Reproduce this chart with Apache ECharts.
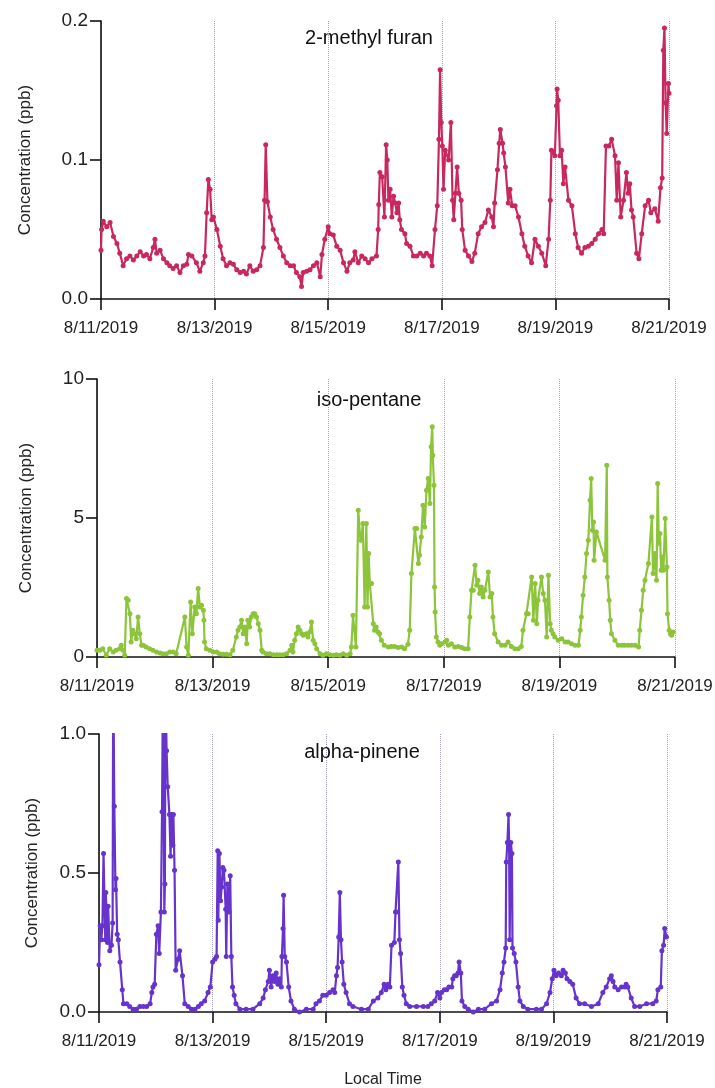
<!DOCTYPE html>
<html>
<head>
<meta charset="utf-8">
<script src="https://cdn.jsdelivr.net/npm/echarts@6/dist/echarts.min.js"></script>
<style>
  html, body { margin: 0; padding: 0; background: #fff; }
  #main { width: 715px; height: 1088px; }
</style>
</head>
<body>
<div id="main"></div>
<script>
// x values are days after 8/11/2019 00:00 local time
var dayTicks = ['8/11/2019', '8/13/2019', '8/15/2019', '8/17/2019', '8/19/2019', '8/21/2019'];

var furanT = [0.00,0.01,0.04,0.10,0.16,0.22,0.28,0.33,0.39,0.45,0.51,0.57,0.63,0.69,0.75,0.80,0.86,0.92,0.95,0.98,
  1.04,1.10,1.16,1.21,1.27,1.33,1.39,1.45,1.51,1.54,1.60,1.68,1.74,1.80,1.83,1.86,1.89,1.92,1.95,1.98,
  2.04,2.10,2.15,2.21,2.27,2.33,2.39,2.45,2.51,2.56,2.62,2.68,2.74,2.80,2.86,2.88,2.90,2.93,2.98,
  3.03,3.09,3.15,3.21,3.27,3.33,3.39,3.44,3.50,3.53,3.56,3.62,3.68,3.74,3.80,3.86,3.89,3.94,
  4.00,4.03,4.09,4.15,4.21,4.27,4.33,4.38,4.44,4.47,4.53,4.59,4.65,4.71,4.77,4.85,4.88,4.89,4.91,4.95,4.99,
  5.02,5.04,5.06,5.09,5.12,5.15,5.18,5.21,5.24,5.26,5.29,5.35,5.38,5.44,5.50,5.56,5.62,5.68,5.73,5.79,5.83,5.88,5.92,5.95,5.97,5.99,
  6.01,6.03,6.06,6.12,6.16,6.19,6.21,6.24,6.27,6.30,6.34,6.36,6.41,6.47,6.53,6.58,6.64,6.70,6.76,6.82,6.88,6.91,6.93,6.98,
  7.01,7.03,7.07,7.09,7.12,7.17,7.20,7.24,7.29,7.35,7.41,7.46,7.52,7.58,7.64,7.70,7.76,7.83,7.88,7.91,7.93,7.96,7.99,
  8.02,8.03,8.05,8.08,8.11,8.14,8.17,8.23,8.29,8.35,8.40,8.46,8.52,8.58,8.64,8.70,8.76,8.82,8.85,8.89,8.94,8.99,
  9.05,9.08,9.11,9.15,9.20,9.25,9.28,9.31,9.34,9.37,9.43,9.47,9.52,9.58,9.64,9.68,9.75,9.81,9.85,9.88,9.90,9.92,9.94,9.96,9.99,10.00];
var furanV = [0.035,0.050,0.056,0.052,0.055,0.045,0.040,0.033,0.024,0.029,0.031,0.028,0.031,0.034,0.031,0.032,0.029,0.037,0.043,0.033,
  0.035,0.029,0.026,0.024,0.022,0.024,0.019,0.024,0.025,0.032,0.031,0.026,0.020,0.026,0.031,0.062,0.086,0.079,0.057,0.059,
  0.050,0.038,0.029,0.024,0.026,0.025,0.021,0.019,0.020,0.018,0.024,0.020,0.021,0.024,0.037,0.071,0.111,0.070,0.059,
  0.050,0.043,0.037,0.031,0.026,0.024,0.024,0.019,0.016,0.009,0.019,0.020,0.021,0.024,0.026,0.016,0.032,0.043,
  0.052,0.047,0.046,0.038,0.035,0.026,0.020,0.026,0.028,0.034,0.026,0.031,0.029,0.026,0.029,0.031,0.050,0.068,0.091,0.088,0.059,
  0.111,0.100,0.071,0.079,0.059,0.074,0.069,0.062,0.069,0.057,0.050,0.047,0.040,0.038,0.031,0.031,0.033,0.031,0.033,0.031,0.024,0.050,0.067,0.115,0.165,0.127,
  0.110,0.079,0.107,0.100,0.127,0.071,0.057,0.076,0.095,0.076,0.071,0.050,0.035,0.031,0.027,0.033,0.047,0.052,0.055,0.064,0.059,0.052,0.069,0.093,
  0.112,0.122,0.112,0.105,0.095,0.069,0.079,0.067,0.067,0.059,0.047,0.038,0.031,0.026,0.043,0.038,0.033,0.024,0.043,0.071,0.107,0.106,0.103,
  0.139,0.151,0.143,0.103,0.107,0.083,0.095,0.071,0.067,0.047,0.037,0.033,0.037,0.038,0.040,0.043,0.047,0.050,0.047,0.110,0.110,0.115,
  0.103,0.071,0.098,0.059,0.071,0.091,0.076,0.083,0.064,0.059,0.033,0.029,0.047,0.067,0.071,0.062,0.065,0.056,0.080,0.087,0.179,0.195,0.141,0.119,0.155,0.148];

var pentaneT = [0.00,0.05,0.10,0.16,0.22,0.28,0.33,0.39,0.42,0.45,0.48,0.51,0.54,0.57,0.59,0.62,0.65,0.68,0.71,0.74,0.77,0.80,0.85,0.91,0.97,
  1.03,1.09,1.14,1.20,1.26,1.32,1.37,1.52,1.55,1.58,1.62,1.65,1.69,1.72,1.75,1.78,1.81,1.84,1.85,1.86,1.89,1.95,
  2.01,2.07,2.12,2.18,2.24,2.30,2.35,2.41,2.44,2.47,2.50,2.53,2.56,2.59,2.61,2.64,2.67,2.70,2.73,2.76,2.79,2.82,2.85,2.87,2.93,2.99,
  3.05,3.11,3.16,3.22,3.28,3.34,3.37,3.39,3.42,3.45,3.48,3.51,3.54,3.57,3.62,3.65,3.68,3.71,3.74,3.77,3.80,3.86,3.91,3.97,
  4.03,4.09,4.14,4.20,4.26,4.32,4.38,4.40,4.43,4.48,4.52,4.55,4.57,4.60,4.63,4.66,4.68,4.70,4.72,4.75,4.78,4.80,4.83,4.86,4.89,4.92,4.97,
  5.04,5.09,5.15,5.21,5.27,5.32,5.38,5.41,5.44,5.50,5.53,5.56,5.58,5.61,5.64,5.67,5.70,5.73,5.76,5.78,5.80,5.81,5.83,5.84,5.85,5.87,5.90,5.93,5.96,
  6.02,6.05,6.08,6.13,6.19,6.25,6.31,6.36,6.42,6.45,6.48,6.51,6.54,6.57,6.59,6.62,6.65,6.68,6.71,6.77,6.80,6.83,6.85,6.88,6.94,
  7.00,7.06,7.11,7.17,7.23,7.29,7.34,7.37,7.43,7.46,7.52,7.55,7.58,7.61,7.63,7.69,7.72,7.75,7.78,7.81,7.84,7.86,7.89,7.92,7.98,
  8.04,8.10,8.15,8.21,8.27,8.33,8.36,8.38,8.41,8.44,8.47,8.50,8.53,8.55,8.57,8.59,8.60,8.64,8.79,8.82,8.83,8.86,8.88,8.90,8.96,
  9.02,9.08,9.13,9.19,9.25,9.31,9.37,9.39,9.42,9.45,9.48,9.54,9.60,9.62,9.65,9.68,9.70,9.72,9.74,9.76,9.78,9.80,9.83,9.86,9.87,9.90,9.92,9.94,9.97];
var pentaneV = [0.24,0.24,0.30,0.06,0.30,0.18,0.24,0.30,0.42,0.24,0.06,2.10,2.04,1.56,0.54,0.96,0.84,0.66,1.44,0.84,0.42,0.42,0.36,0.30,0.24,
  0.18,0.14,0.12,0.12,0.18,0.18,0.12,1.44,0.36,0.06,1.98,0.84,1.80,1.56,2.46,1.80,1.86,1.68,1.32,0.54,0.30,0.24,
  0.18,0.18,0.12,0.10,0.10,0.08,0.24,0.72,0.96,1.08,1.32,0.84,1.08,0.48,1.32,1.08,1.44,1.56,1.56,1.44,1.20,0.96,0.24,0.18,0.12,0.12,
  0.08,0.08,0.08,0.08,0.12,0.24,0.42,0.18,0.60,0.84,1.08,0.96,0.84,0.78,0.84,0.72,0.90,1.26,0.60,0.48,0.30,0.12,0.06,0.12,
  0.08,0.06,0.08,0.06,0.12,0.06,0.12,0.36,1.50,0.36,5.28,4.38,4.20,4.80,1.80,4.80,1.80,3.72,2.64,2.64,1.20,0.96,1.08,0.90,0.84,0.60,0.42,
  0.36,0.38,0.38,0.34,0.36,0.30,0.46,0.96,3.00,4.62,4.62,3.36,3.66,4.32,5.46,4.68,6.00,6.42,5.52,7.56,8.28,7.26,6.18,2.52,1.62,0.72,0.54,0.42,0.48,
  0.54,0.60,0.42,0.48,0.36,0.38,0.34,0.30,0.30,1.44,2.40,2.40,3.30,2.58,2.76,2.28,2.52,2.16,2.40,3.06,2.16,2.28,1.44,0.84,0.54,
  0.42,0.42,0.54,0.38,0.30,0.30,0.38,0.96,1.56,1.56,2.88,1.32,2.64,1.20,2.04,2.88,2.28,2.04,0.72,2.94,1.20,0.96,0.84,0.72,0.60,
  0.66,0.54,0.54,0.48,0.42,0.42,0.96,1.44,2.22,2.88,3.72,4.20,5.64,6.42,4.56,4.86,3.48,4.50,3.48,6.90,2.88,2.04,1.32,0.84,0.60,
  0.42,0.42,0.42,0.42,0.42,0.42,0.36,0.96,1.68,2.40,2.76,3.36,5.04,3.00,3.72,2.76,6.24,4.08,4.44,3.12,3.60,3.12,4.98,3.24,1.56,0.96,0.84,0.78,0.90];

var pineneT = [0.00,0.02,0.04,0.06,0.08,0.11,0.12,0.15,0.16,0.19,0.22,0.24,0.25,0.27,0.29,0.30,0.32,0.34,0.37,0.41,0.43,0.49,0.54,0.60,0.66,0.72,0.78,0.84,0.90,0.93,0.95,0.98,
  1.01,1.04,1.06,1.09,1.11,1.13,1.15,1.16,1.17,1.19,1.21,1.24,1.26,1.28,1.30,1.31,1.33,1.35,1.39,1.42,1.47,1.51,1.57,1.63,1.69,1.75,1.80,1.86,1.92,1.96,
  2.00,2.04,2.07,2.09,2.10,2.12,2.14,2.16,2.18,2.20,2.23,2.24,2.26,2.29,2.31,2.33,2.35,2.38,2.41,2.48,2.59,2.71,2.83,2.89,2.93,2.98,
  3.00,3.03,3.06,3.09,3.12,3.15,3.18,3.21,3.22,3.24,3.25,3.27,3.30,3.34,3.38,3.44,3.53,3.65,3.77,3.82,3.88,3.94,
  4.00,4.06,4.12,4.15,4.18,4.20,4.22,4.24,4.26,4.28,4.31,4.35,4.41,4.47,4.62,4.74,4.83,4.91,4.97,
  5.02,5.05,5.09,5.12,5.15,5.20,5.22,5.24,5.27,5.29,5.31,5.34,5.37,5.41,5.47,5.59,5.71,5.79,5.85,5.91,5.96,
  6.00,6.03,6.08,6.12,6.16,6.21,6.23,6.26,6.29,6.32,6.34,6.37,6.39,6.44,6.50,6.59,6.68,6.79,6.91,
  7.00,7.06,7.10,7.13,7.16,7.17,7.19,7.21,7.22,7.23,7.25,7.27,7.28,7.31,7.34,7.38,7.41,7.47,7.55,7.70,7.79,7.88,7.94,7.98,
  8.01,8.05,8.09,8.14,8.17,8.21,8.24,8.29,8.34,8.40,8.46,8.55,8.67,8.79,8.87,8.93,8.99,
  9.02,9.05,9.08,9.14,9.20,9.26,9.28,9.31,9.37,9.43,9.52,9.64,9.75,9.81,9.84,9.89,9.91,9.94,9.96,9.99];
var pineneV = [0.17,0.31,0.26,0.31,0.57,0.26,0.43,0.25,0.38,0.22,0.24,0.32,1.25,0.74,0.44,0.48,0.28,0.26,0.18,0.08,0.03,0.03,0.02,0.01,0.01,0.02,0.02,0.02,0.03,0.07,0.09,0.10,
  0.28,0.31,0.21,0.36,0.72,1.30,0.36,0.46,1.20,0.94,0.81,0.71,0.56,0.71,0.60,0.71,0.51,0.15,0.19,0.22,0.13,0.03,0.02,0.01,0.01,0.02,0.03,0.04,0.07,0.09,
  0.18,0.19,0.20,0.58,0.33,0.57,0.40,0.45,0.52,0.51,0.37,0.20,0.46,0.36,0.49,0.20,0.09,0.06,0.03,0.01,0.01,0.01,0.03,0.05,0.08,0.11,
  0.15,0.09,0.13,0.11,0.14,0.10,0.12,0.09,0.20,0.30,0.42,0.20,0.18,0.09,0.04,0.01,0.00,0.01,0.01,0.03,0.04,0.06,
  0.06,0.07,0.08,0.07,0.13,0.16,0.27,0.43,0.26,0.18,0.10,0.07,0.03,0.02,0.01,0.01,0.04,0.05,0.07,
  0.10,0.08,0.10,0.09,0.24,0.25,0.36,0.36,0.54,0.26,0.21,0.09,0.06,0.03,0.02,0.02,0.02,0.02,0.03,0.04,0.07,
  0.05,0.07,0.08,0.08,0.09,0.09,0.12,0.13,0.13,0.14,0.18,0.14,0.04,0.02,0.01,0.00,0.01,0.01,0.03,
  0.04,0.08,0.14,0.18,0.23,0.54,0.61,0.71,0.61,0.26,0.61,0.57,0.23,0.21,0.18,0.09,0.04,0.02,0.01,0.01,0.01,0.03,0.07,0.12,
  0.15,0.13,0.14,0.13,0.15,0.14,0.12,0.11,0.10,0.05,0.03,0.03,0.02,0.03,0.07,0.09,0.12,
  0.13,0.11,0.09,0.08,0.09,0.09,0.10,0.09,0.05,0.02,0.02,0.03,0.03,0.04,0.08,0.09,0.22,0.24,0.30,0.27];

function pairs(t, v) {
  return t.map(function (x, i) { return [x, v[i]]; });
}

var font = 'Liberation Sans, Arial, sans-serif';
var panels = [
  {name: '2-methyl furan', t: furanT, v: furanV, color: '#c8285f', max: 0.2, step: 0.1, digits: 1,
   left: 101, top: 21, width: 568, titleX: 369, titleY: 38, nameGap: 67},
  {name: 'iso-pentane', t: pentaneT, v: pentaneV, color: '#8cc43a', max: 10, step: 5, digits: 0,
   left: 97, top: 379, width: 578, titleX: 369, titleY: 400, nameGap: 62},
  {name: 'alpha-pinene', t: pineneT, v: pineneV, color: '#6633cc', max: 1, step: 0.5, digits: 1,
   left: 99, top: 734, width: 568, titleX: 362, titleY: 752, nameGap: 58}
];

var grids = [], xAxes = [], yAxes = [], series = [], texts = [];
panels.forEach(function (p, i) {
  grids.push({left: p.left, top: p.top, width: p.width, height: 278, outerBoundsMode: 'none'});
  xAxes.push({
    type: 'value', gridIndex: i, min: 0, max: 10, interval: 2,
    name: i == 2 ? 'Local Time' : '',
    nameLocation: 'middle', nameGap: 60,
    nameTextStyle: {fontFamily: font, fontSize: 16, color: '#222'},
    axisLine: {lineStyle: {color: '#111', width: 1.6}},
    axisTick: {length: 11, lineStyle: {color: '#111', width: 1.6}},
    axisLabel: {
      fontFamily: font, fontSize: 17, color: '#222', margin: 21,
      formatter: function (val) { return dayTicks[Math.round(val / 2)]; }
    },
    splitLine: {show: true, lineStyle: {color: '#9c9cc4', type: 'dotted', width: 1}}
  });
  yAxes.push({
    type: 'value', gridIndex: i, min: 0, max: p.max, interval: p.step,
    name: 'Concentration (ppb)', nameLocation: 'middle', nameGap: p.nameGap,
    nameTextStyle: {fontFamily: font, fontSize: 17, color: '#222'},
    axisLine: {show: true, lineStyle: {color: '#111', width: 1.6}},
    axisTick: {show: true, length: 11, lineStyle: {color: '#111', width: 1.6}},
    axisLabel: {
      fontFamily: font, fontSize: 19, color: '#222', margin: 13,
      formatter: function (val) { return val.toFixed(p.digits); }
    },
    splitLine: {show: false}
  });
  series.push({
    type: 'line', xAxisIndex: i, yAxisIndex: i,
    data: pairs(p.t, p.v),
    symbol: 'circle', symbolSize: 5, showSymbol: true,
    lineStyle: {color: p.color, width: 2.2},
    itemStyle: {color: p.color},
    clip: true, animation: false
  });
  texts.push({
    type: 'text', x: p.titleX, y: p.titleY,
    style: {text: p.name, fontFamily: font, fontSize: 20, fill: '#111',
            textAlign: 'center', textVerticalAlign: 'middle'}
  });
});

var myChart = echarts.init(document.getElementById('main'));
myChart.setOption({
  animation: false,
  backgroundColor: '#fff',
  grid: grids,
  xAxis: xAxes,
  yAxis: yAxes,
  series: series,
  graphic: texts
});
</script>
</body>
</html>
